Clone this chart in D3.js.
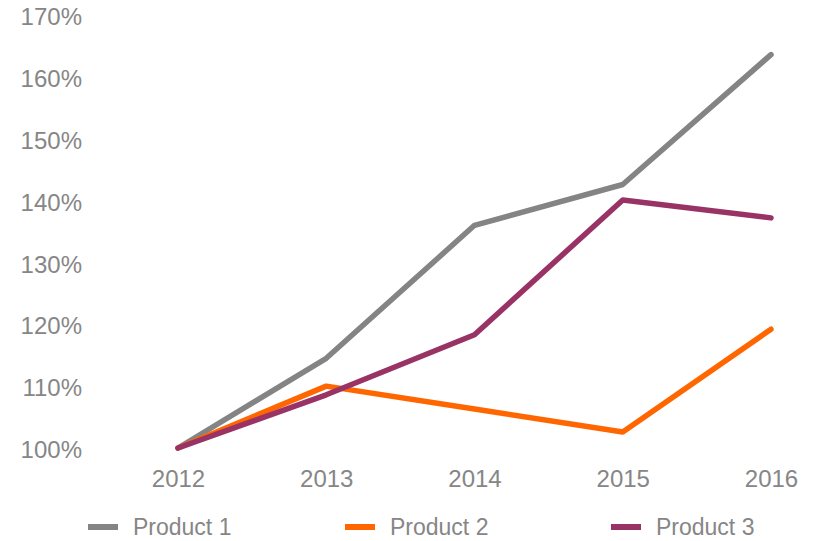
<!DOCTYPE html>
<html>
<head>
<meta charset="utf-8">
<script src="https://cdn.jsdelivr.net/npm/d3@7"></script>
<style>
  body { margin: 0; background: #fff; }
  svg text { font-family: "Liberation Sans", Arial, sans-serif; fill: #868686; }
</style>
</head>
<body>
<div id="chart"></div>
<script>
// data
const years = ["2012", "2013", "2014", "2015", "2016"];
const product1 = [1.00, 1.145, 1.36, 1.426, 1.636];
const product2 = [1.00, 1.10, 1.063, 1.026, 1.192];
const product3 = [1.00, 1.086, 1.183, 1.401, 1.372];
const seriesNames = ["Product 1", "Product 2", "Product 3"];
const yTicks = [1.0, 1.1, 1.2, 1.3, 1.4, 1.5, 1.6, 1.7];

const colors = ["#848484", "#ff6600", "#993366"];
const W = 815, H = 541;

const svg = d3.select("#chart").append("svg")
    .attr("width", W)
    .attr("height", H);

const x = d3.scalePoint().domain(years).range([178, 771]);
const y = d3.scaleLinear().domain([1.0, 1.7]).range([448, 15]);

// y axis labels, no line
const yAxis = svg.append("g")
    .attr("transform", "translate(82,0)")
    .call(d3.axisLeft(y).tickValues(yTicks).tickFormat(d3.format(".0%")).tickSize(0).tickPadding(0));
yAxis.select(".domain").remove();
yAxis.selectAll("text")
    .attr("dy", "0.36em")
    .attr("y", 1)
    .style("font-size", "24px")
    .style("font-family", "'Liberation Sans', Arial, sans-serif")
    .attr("fill", "#868686");

// x axis labels
const xAxis = svg.append("g")
    .attr("transform", "translate(0,469)")
    .call(d3.axisBottom(x).tickSize(0).tickPadding(0));
xAxis.select(".domain").remove();
xAxis.selectAll("text")
    .attr("dy", "0.71em")
    .attr("y", 1)
    .style("font-size", "24px")
    .style("font-family", "'Liberation Sans', Arial, sans-serif")
    .attr("fill", "#868686");

const allSeries = [product1, product2, product3];

const line = d3.line()
    .x((d, i) => x(years[i]))
    .y(d => y(d));

svg.append("g")
    .selectAll("path")
    .data(allSeries)
    .enter()
    .append("path")
    .attr("d", d => line(d))
    .attr("fill", "none")
    .attr("stroke", (d, i) => colors[i])
    .attr("stroke-width", 5.5)
    .attr("stroke-linecap", "round")
    .attr("stroke-linejoin", "round");

// legend
const legendX = [88, 345, 611];
const legend = svg.append("g")
    .selectAll("g")
    .data(seriesNames)
    .enter()
    .append("g")
    .attr("transform", (d, i) => `translate(${legendX[i]}, 527)`);

legend.append("line")
    .attr("x1", 0)
    .attr("x2", 30)
    .attr("stroke", (d, i) => colors[i])
    .attr("stroke-width", 6);

legend.append("text")
    .attr("x", 45)
    .attr("dy", "0.36em")
    .style("font-size", "23px")
    .text(d => d);
</script>
</body>
</html>
